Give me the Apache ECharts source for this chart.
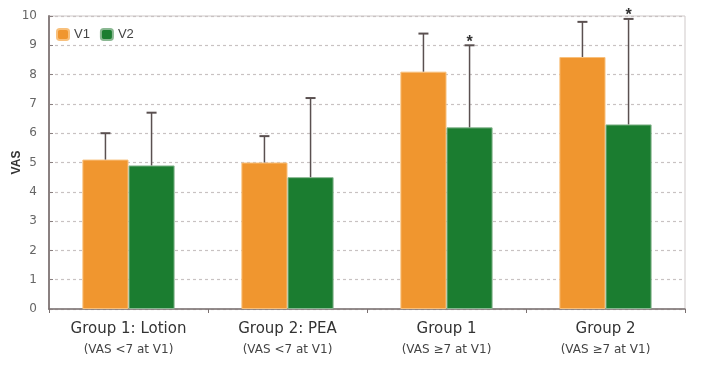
<!DOCTYPE html>
<html><head><meta charset="utf-8">
<script src="https://cdn.jsdelivr.net/npm/echarts@6/dist/echarts.min.js"></script>
<style>html,body{margin:0;padding:0;background:#fff}#c{width:701px;height:368px}</style>
</head><body><div id="c"></div>
<script>
var groupNames = ['Group 1: Lotion', 'Group 2: PEA', 'Group 1', 'Group 2'];
var groupSubs = ['(VAS <7 at V1)', '(VAS <7 at V1)', '(VAS \u22657 at V1)', '(VAS \u22657 at V1)'];
var v1 = [5.1, 5.0, 8.1, 8.6];
var v2 = [4.9, 4.5, 6.2, 6.3];
var v1ErrTop = [6.0, 5.9, 9.4, 9.8];
var v2ErrTop = [6.7, 7.2, 9.0, 9.9];
var v2Star = [false, false, true, true];
var yTicks = [0,1,2,3,4,5,6,7,8,9,10];

var catGap = 0.42;
var chart = echarts.init(document.getElementById('c'));
function errSeries(vals, tops, side, stars) {
  var data = vals.map(function(v, i){ return [i, v, tops[i], stars ? (stars[i]?1:0) : 0]; });
  return {
    type: 'custom', z: 5,
    data: data,
    renderItem: function(params, api) {
      var i = api.value(0);
      var base = api.coord([i, api.value(1)]);
      var top = api.coord([i, api.value(2)]);
      var band = api.size([1, 0])[0];
      var bw = band * (1 - catGap) / 2;
      var x = base[0] + side * bw / 2;
      var cap = 5;
      var children = [
        {type:'line', shape:{x1:x,y1:base[1],x2:x,y2:top[1]}, style:{stroke:'#5a5050', lineWidth:1.5}},
        {type:'line', shape:{x1:x-cap,y1:top[1],x2:x+cap,y2:top[1]}, style:{stroke:'#5a5050', lineWidth:2}}
      ];
      if (api.value(3) === 1) {
        children.push({type:'text', style:{x:x, y:top[1]-3, text:'*', fill:'#333', font:'bold 16px Arial', align:'center', verticalAlign:'middle'}});
      }
      return {type:'group', children: children};
    }
  };
}
chart.setOption({
  animation: false,
  grid: {left: 49, right: 16, top: 16, bottom: 59, outerBoundsMode: 'none', containLabel: false, show: true, borderColor: '#cfc9c9', borderWidth: 1},
  legend: {
    left: 51, top: 23, itemWidth: 12, itemHeight: 11, itemGap: 10,
    textStyle: {fontFamily: 'Arial', fontSize: 13, color: '#444'},
    data: ['V1', 'V2']
  },
  xAxis: {
    type: 'category',
    data: groupNames.map(function(n, i){ return n + '\n' + groupSubs[i]; }),
    axisLine: {lineStyle: {color: '#7a7070', width: 1.5}},
    axisTick: {show: true, length: 4, lineStyle: {color: '#7a7070'}},
    axisLabel: {
      margin: 9,
      formatter: function(v){ var p = v.split('\n'); return '{a|' + p[0] + '}\n{b|' + p[1] + '}'; },
      rich: {
        a: {fontFamily: 'DejaVu Sans', fontSize: 15, color: '#333', lineHeight: 22},
        b: {fontFamily: 'DejaVu Sans', fontSize: 12, color: '#444', lineHeight: 20}
      }
    }
  },
  yAxis: {
    type: 'value', min: 0, max: 10, interval: 1,
    name: 'VAS', nameLocation: 'middle', nameGap: 26, nameRotate: 90, nameMoveOverlap: false,
    nameTextStyle: {fontFamily: 'Arial', fontSize: 12, fontWeight: 'bold', color: '#333'},
    axisLine: {show: true, lineStyle: {color: '#8a8080', width: 2}},
    axisTick: {show: true, length: 4, inside: true, lineStyle: {color: '#8a8080'}},
    axisLabel: {fontFamily: 'DejaVu Sans', fontSize: 12, color: '#666', margin: 12,
      formatter: function(v){ return yTicks.indexOf(v) >= 0 ? String(v) : ''; }},
    splitLine: {lineStyle: {color: '#c8c2c2', type: [3, 3], width: 1.2}}
  },
  series: [
    {name: 'V1', type: 'bar', data: v1, barGap: '0%', barCategoryGap: (catGap*100)+'%',
      itemStyle: {color: '#f0962f', borderColor: '#f8c07c', borderWidth: 1}},
    {name: 'V2', type: 'bar', data: v2, barGap: '0%', barCategoryGap: (catGap*100)+'%',
      itemStyle: {color: '#1b7d30', borderColor: '#8ab892', borderWidth: 1}},
    errSeries(v1, v1ErrTop, -1, null),
    errSeries(v2, v2ErrTop, 1, v2Star)
  ]
});
</script></body></html>
